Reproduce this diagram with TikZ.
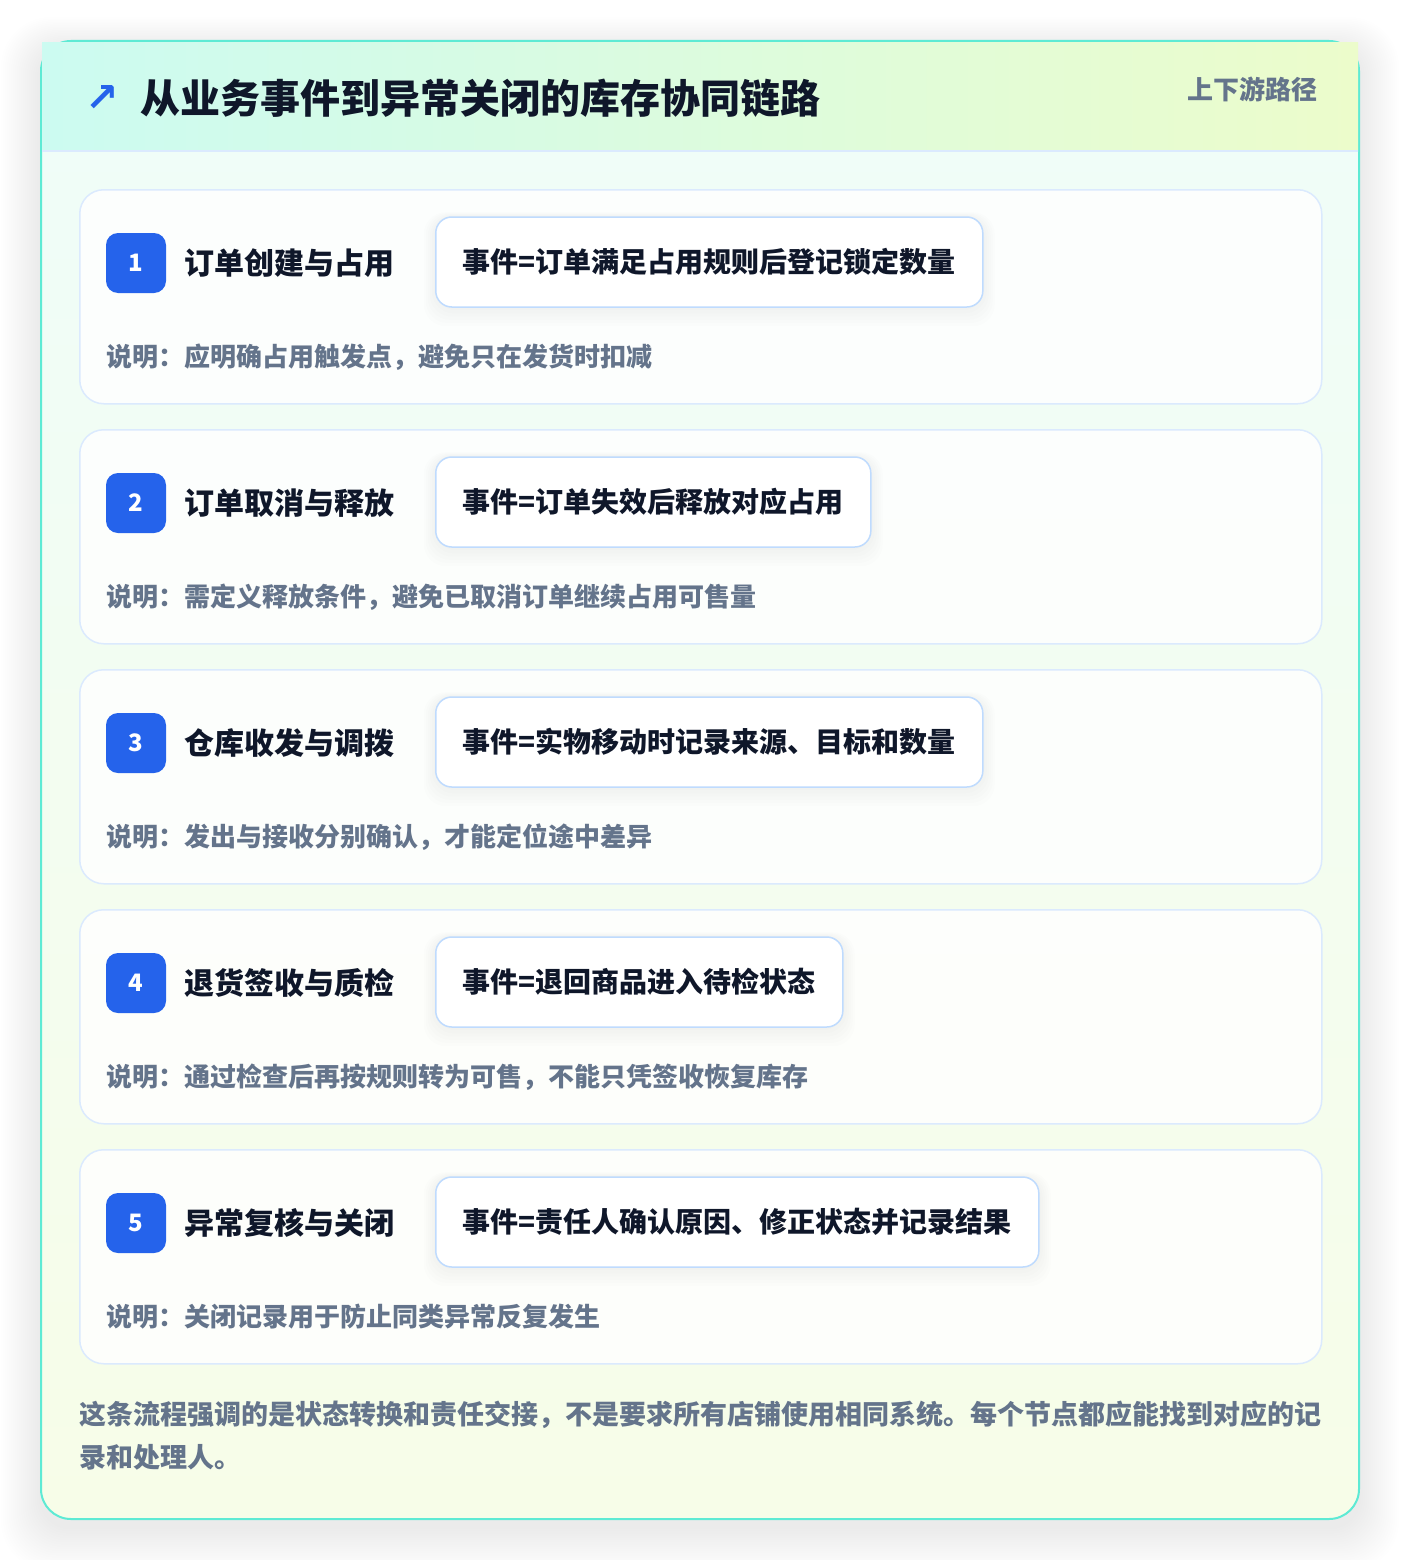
\documentclass[tikz,border=0pt]{standalone}
\usepackage{fontspec}
\setmainfont{Noto Sans CJK SC}
\newfontfamily\symfont{DejaVu Sans}
\definecolor{ink}{HTML}{0F172A}
\definecolor{muted}{HTML}{64748B}
\definecolor{badgeblue}{HTML}{2563EB}
\definecolor{evline}{HTML}{BFDBFE}
\definecolor{cardline}{HTML}{DBEAFE}
\definecolor{outline}{HTML}{5EEAD4}
\definecolor{headL}{HTML}{CCFBF1}
\definecolor{headR}{HTML}{ECFCCB}
\definecolor{bodyT}{HTML}{EFFDF9}
\definecolor{bodyB}{HTML}{F7FDE8}
\begin{document}
\begin{tikzpicture}[x=1pt,y=-1pt,
  stepcard/.style={draw=cardline, line width=1.5pt, rounded corners=24pt, fill=white, fill opacity=0.82, minimum width=1242pt, minimum height=214pt, anchor=north west, inner sep=0},
  badge/.style={fill=badgeblue, rounded corners=12pt, minimum size=60pt, text=white, font=\bfseries\fontsize{24}{28}\selectfont, inner sep=0},
  steplabel/.style={anchor=west, font=\bfseries\fontsize{30}{36}\selectfont, text=ink, inner sep=0},
  eventbox/.style={anchor=west, draw=evline, line width=1.5pt, fill=white, rounded corners=16pt, minimum height=90pt, inner xsep=27pt, inner ysep=0pt, font=\bfseries\fontsize{28}{34}\selectfont, text=ink},
  eventshadow/.style={eventbox, draw=none, fill=black, fill opacity=0.009, rounded corners=22pt},
  notetext/.style={anchor=west, inner sep=0, font=\bfseries\fontsize{26}{32}\selectfont, text=muted},
  foottext/.style={notetext, font=\bfseries\fontsize{27}{32}\selectfont}
]
\useasboundingbox (0,0) rectangle (1400,1560);
\fill[white] (0,0) rectangle (1400,1560);
% outer shadow
\foreach \k in {1,...,20}{
  \fill[black, opacity=0.0045, rounded corners={30pt+\k pt}] ({41-2*\k},{49-1.6*\k}) rectangle ({1359+2*\k},{1527+2.2*\k});
}
% outer card
\path[draw=outline, line width=2pt, top color=bodyT, bottom color=bodyB, rounded corners=30pt] (41,41) rectangle (1359,1519);
\shade[left color=headL, right color=headR] (42,42.2) rectangle (1358,151);
\draw[cardline, line width=1.5pt] (42,151) -- (1358,151);
% header
\node[anchor=center, inner sep=0, text=badgeblue, font=\symfont\bfseries\fontsize{40}{44}\selectfont] (arrow) at (102,99) {↗};
\node[anchor=west, inner sep=0, text=ink, font=\bfseries\fontsize{40}{48}\selectfont] (title) at (140,98) {从业务事件到异常关闭的库存协同链路};
\node[anchor=east, inner sep=0, text=muted, font=\bfseries\fontsize{26}{32}\selectfont] (tag) at (1318,89) {上下游路径};
% steps
\foreach \i/\lab/\ev/\nt in {
  1/订单创建与占用/事件=订单满足占用规则后登记锁定数量/说明：应明确占用触发点，避免只在发货时扣减,
  2/订单取消与释放/事件=订单失效后释放对应占用/说明：需定义释放条件，避免已取消订单继续占用可售量,
  3/仓库收发与调拨/事件=实物移动时记录来源、目标和数量/说明：发出与接收分别确认，才能定位途中差异,
  4/退货签收与质检/事件=退回商品进入待检状态/说明：通过检查后再按规则转为可售，不能只凭签收恢复库存,
  5/异常复核与关闭/事件=责任人确认原因、修正状态并记录结果/说明：关闭记录用于防止同类异常反复发生}{
  \pgfmathsetmacro{\top}{189+240*(\i-1)}
  \node[stepcard] (card\i) at (79,\top) {};
  \node[badge] (badge\i) at (136,\top+74) {\i};
  \node[steplabel] (label\i) at (184,\top+74) {\lab};
  \foreach \s in {1,...,6}{
    \node[eventshadow, minimum height={90pt+4*\s pt}, inner xsep={27pt+2*\s pt}] (evs\i-\s) at ({435-2*\s},{\top+73+1.2*\s}) {\phantom{\ev}};
  }
  \node[eventbox] (event\i) at (435,\top+73) {\ev};
  \node[notetext] (note\i) at (106,\top+168) {\nt};
}
% footer
\node[foottext] (foot1) at (79,1415) {这条流程强调的是状态转换和责任交接，不是要求所有店铺使用相同系统。每个节点都应能找到对应的记};
\node[foottext] (foot2) at (79,1457) {录和处理人。};
\end{tikzpicture}
\end{document}
